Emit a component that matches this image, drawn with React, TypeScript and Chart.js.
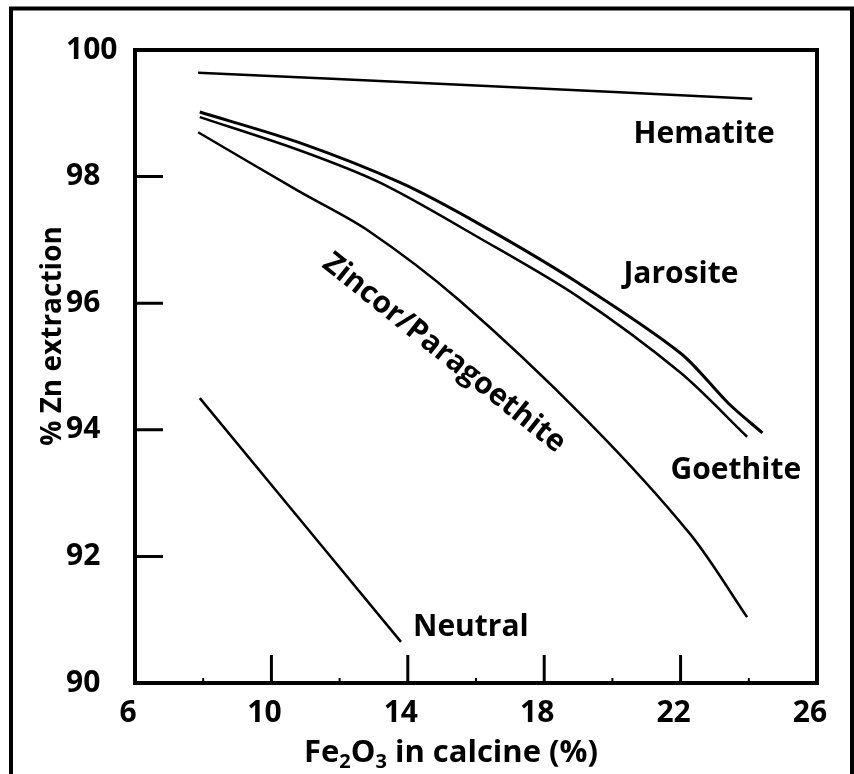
import React, { useEffect, useRef } from "react";
import { Chart, registerables } from "chart.js";

Chart.register(...registerables);

// Fe2O3 content in calcine (%) and resulting Zn extraction (%) for each process
const hematiteX = [7.85, 16.0, 24.1];
const hematiteY = [99.64, 99.44, 99.23];

const jarositeX = [7.9, 10.8, 13.8, 16.1, 19.0, 22.0, 23.4, 24.4];
const jarositeY = [99.02, 98.54, 97.9, 97.25, 96.32, 95.21, 94.42, 93.95];

const goethiteX = [7.9, 10.8, 13.2, 16.1, 19.0, 22.0, 23.95];
const goethiteY = [98.94, 98.42, 97.9, 97.03, 96.1, 94.9, 93.89];

const zincorX = [7.85, 10.8, 12.8, 15.5, 19.25, 22.3, 23.95];
const zincorY = [98.7, 97.77, 97.16, 96.05, 94.15, 92.34, 91.04];

const neutralX = [7.9, 13.8];
const neutralY = [94.5, 90.65];

// Axis ranges and tick values
const xMin = 6;
const xMax = 26;
const xStep = 4;
const yMin = 90;
const yMax = 100;
const yStep = 2;
const xMajorTicks = [10, 14, 18, 22];
const xMinorTicks = [8, 12, 16, 20, 24];
const yMajorTicks = [92, 94, 96, 98];

// Curve names placed next to their lines (data coordinates, angle in degrees)
const curveLabels = [
  { text: "Hematite", x: 22.69, y: 98.66, angle: 0 },
  { text: "Jarosite", x: 22.01, y: 96.45, angle: 0 },
  { text: "Goethite", x: 23.62, y: 93.35, angle: 0 },
  { text: "Neutral", x: 15.85, y: 90.87, angle: 0 },
  { text: "Zincor/Paragoethite", x: 15.06, y: 95.21, angle: 38.5 },
];

const FONT = "'Open Sans', Lato, sans-serif";

const toPoints = (xs: number[], ys: number[]) => xs.map((x, i) => ({ x, y: ys[i] }));

const curve = (label: string, xs: number[], ys: number[], width = 2.5) => ({
  label,
  data: toPoints(xs, ys),
  showLine: true,
  borderColor: "#000",
  borderWidth: width,
  pointRadius: 0,
  tension: 0.3,
  fill: false,
});

const decorations = {
  id: "decorations",
  afterDraw(chart: any) {
    const { ctx, chartArea: a, scales } = chart;
    const xs = scales.x;
    const ys = scales.y;
    ctx.save();
    ctx.strokeStyle = "#000";
    ctx.fillStyle = "#000";

    // outer frame
    ctx.lineWidth = 4;
    ctx.beginPath();
    ctx.moveTo(11, 774);
    ctx.lineTo(11, 8.5);
    ctx.lineTo(852, 8.5);
    ctx.lineTo(852, 774);
    ctx.stroke();

    // plot frame
    ctx.strokeRect(a.left, a.top, a.right - a.left, a.bottom - a.top);

    // inward major ticks
    ctx.lineWidth = 3;
    ctx.beginPath();
    xMajorTicks.forEach((v) => {
      const px = xs.getPixelForValue(v);
      ctx.moveTo(px, a.bottom);
      ctx.lineTo(px, a.bottom - 28);
    });
    yMajorTicks.forEach((v) => {
      const py = ys.getPixelForValue(v);
      ctx.moveTo(a.left, py);
      ctx.lineTo(a.left + 28, py);
    });
    ctx.stroke();

    // small minor ticks on the x axis
    ctx.lineWidth = 2;
    ctx.beginPath();
    xMinorTicks.forEach((v) => {
      const px = xs.getPixelForValue(v);
      ctx.moveTo(px, a.bottom);
      ctx.lineTo(px, a.bottom - 5);
    });
    ctx.stroke();

    // curve names
    ctx.font = `bold 30px ${FONT}`;
    ctx.textAlign = "center";
    ctx.textBaseline = "middle";
    curveLabels.forEach((l) => {
      ctx.save();
      ctx.translate(xs.getPixelForValue(l.x), ys.getPixelForValue(l.y));
      ctx.rotate((l.angle * Math.PI) / 180);
      ctx.fillText(l.text, 0, 0);
      ctx.restore();
    });

    // y axis title
    ctx.save();
    ctx.font = `bold 28px ${FONT}`;
    ctx.translate(61, 336);
    ctx.rotate(-Math.PI / 2);
    ctx.textAlign = "center";
    ctx.textBaseline = "alphabetic";
    ctx.fillText("% Zn extraction", 0, 0);
    ctx.restore();

    // x axis title with subscripts
    const parts: { t: string; sub: boolean }[] = [
      { t: "Fe", sub: false },
      { t: "2", sub: true },
      { t: "O", sub: false },
      { t: "3", sub: true },
      { t: " in calcine (%)", sub: false },
    ];
    const mainFont = `bold 31px ${FONT}`;
    const subFont = `bold 20px ${FONT}`;
    let total = 0;
    parts.forEach((p) => {
      ctx.font = p.sub ? subFont : mainFont;
      total += ctx.measureText(p.t).width;
    });
    let cx = 451 - total / 2;
    const base = 762;
    ctx.textAlign = "left";
    ctx.textBaseline = "alphabetic";
    parts.forEach((p) => {
      ctx.font = p.sub ? subFont : mainFont;
      ctx.fillText(p.t, cx, p.sub ? base + 6 : base);
      cx += ctx.measureText(p.t).width;
    });

    ctx.restore();
  },
};

export default function App() {
  const ref = useRef<HTMLCanvasElement | null>(null);

  useEffect(() => {
    if (!ref.current) return;
    const chart = new Chart(ref.current, {
      type: "scatter",
      data: {
        datasets: [
          curve("Hematite", hematiteX, hematiteY),
          curve("Jarosite", jarositeX, jarositeY, 3),
          curve("Goethite", goethiteX, goethiteY),
          curve("Zincor/Paragoethite", zincorX, zincorY),
          curve("Neutral", neutralX, neutralY),
        ],
      },
      options: {
        responsive: false,
        animation: false,
        events: [],
        layout: { padding: { left: 66, top: 50, right: 37, bottom: 0 } },
        plugins: {
          legend: { display: false },
          tooltip: { enabled: false },
        },
        scales: {
          x: {
            type: "linear",
            min: xMin,
            max: xMax,
            grid: { display: false },
            border: { display: false },
            ticks: {
              stepSize: xStep,
              color: "#000",
              padding: 4,
              labelOffset: -7,
              maxRotation: 0,
              font: { family: FONT, size: 30, weight: "bold" },
            },
            afterFit: (s: any) => {
              s.height = 91;
            },
          },
          y: {
            type: "linear",
            min: yMin,
            max: yMax,
            grid: { display: false },
            border: { display: false },
            ticks: {
              stepSize: yStep,
              color: "#000",
              crossAlign: "far",
              font: { family: FONT, size: 30, weight: "bold" },
            },
            afterFit: (s: any) => {
              s.width = 69;
            },
          },
        },
      },
      plugins: [decorations],
    });
    return () => chart.destroy();
  }, []);

  return (
    <div style={{ position: "fixed", left: 0, top: 0, width: 854, height: 774, background: "#fff" }}>
      <canvas ref={ref} width={854} height={774} />
    </div>
  );
}
